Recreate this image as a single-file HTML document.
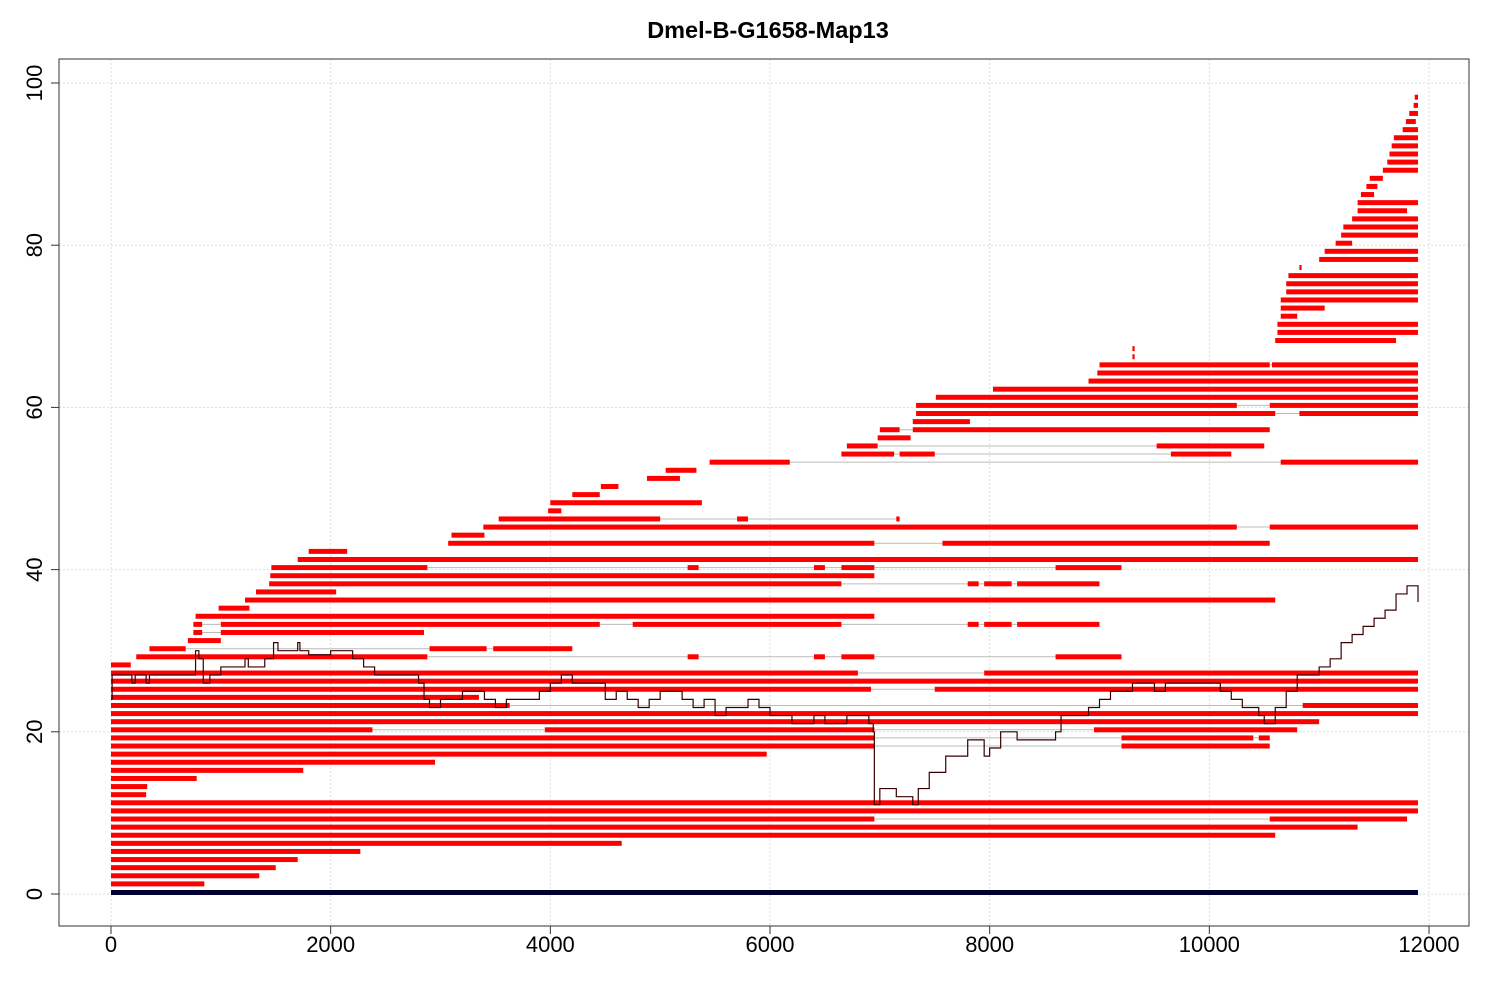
<!DOCTYPE html>
<html><head><meta charset="utf-8"><style>body{margin:0;background:#fff}svg{display:block}</style></head>
<body>
<svg id="chart" width="1500" height="1000" xmlns="http://www.w3.org/2000/svg" font-family="Liberation Sans, sans-serif">
<text x="768" y="38" text-anchor="middle" font-size="23.5" font-weight="bold">Dmel-B-G1658-Map13</text>
<g id="grid"></g>
<g id="links"></g>
<g id="bars"></g>
<g id="cov"></g>
<rect x="59" y="59" width="1410" height="867" fill="none" stroke="#333" stroke-width="1"/>
<g id="axes"></g>
</svg>
<script>
const xTicks=[0,2000,4000,6000,8000,10000,12000];
const yTicks=[0,20,40,60,80,100];
const rowSegments=[
[1,[[0,850]]],[2,[[0,1350]]],[3,[[0,1500]]],[4,[[0,1700]]],[5,[[0,2270]]],[6,[[0,4650]]],
[7,[[0,10600]]],[8,[[0,11350]]],[9,[[0,6950],[10550,11800]]],[10,[[0,11900]]],[11,[[0,11900]]],
[12,[[0,320]]],[13,[[0,330]]],[14,[[0,780]]],[15,[[0,1750]]],[16,[[0,2950]]],[17,[[0,5970]]],
[18,[[0,6950],[9200,10550]]],[19,[[0,6950],[9200,10400],[10450,10550]]],[20,[[0,2380],[3950,6950],[8950,10800]]],
[21,[[0,11000]]],[22,[[0,11900]]],[23,[[0,3630],[10850,11900]]],[24,[[0,3350]]],[25,[[0,6920],[7500,11900]]],
[26,[[0,11900]]],[27,[[0,6800],[7950,11900]]],[28,[[0,180]]],
[29,[[230,2880],[5250,5350],[6400,6500],[6650,6950],[8600,9200]]],[30,[[350,680],[2900,3420],[3480,4200]]],
[31,[[700,1000]]],[32,[[750,830],[1000,2850]]],[33,[[750,830],[1000,4450],[4750,6650],[7800,7900],[7950,8200],[8250,9000]]],
[34,[[770,6950]]],[35,[[980,1260]]],[36,[[1220,10600]]],[37,[[1320,2050]]],
[38,[[1440,6650],[7800,7900],[7950,8200],[8250,9000]]],[39,[[1450,6950]]],
[40,[[1460,2880],[5250,5350],[6400,6500],[6650,6950],[8600,9200]]],[41,[[1700,11900]]],[42,[[1800,2150]]],
[43,[[3070,6950],[7570,10550]]],[44,[[3100,3400]]],[45,[[3390,10250],[10550,11900]]],
[46,[[3530,5000],[5700,5800],[7150,7180]]],[47,[[3980,4100]]],[48,[[4000,5380]]],[49,[[4200,4450]]],
[50,[[4460,4620]]],[51,[[4880,5180]]],[52,[[5050,5330]]],[53,[[5450,6180],[10650,11900]]],
[54,[[6650,7130],[7180,7500],[9650,10200]]],[55,[[6700,6980],[9520,10500]]],[56,[[6980,7280]]],
[57,[[7000,7180],[7300,10550]]],[58,[[7300,7820]]],[59,[[7330,10600],[10820,11900]]],
[60,[[7330,10250],[10550,11900]]],[61,[[7510,11900]]],[62,[[8030,11900]]],[63,[[8900,11900]]],
[64,[[8980,11900]]],[65,[[9000,10550],[10570,11900]]],[66,[[9300,9320]]],[67,[[9300,9320]]],
[68,[[10600,11700]]],[69,[[10620,11900]]],[70,[[10620,11900]]],[71,[[10650,10800]]],[72,[[10650,11050]]],
[73,[[10650,11900]]],[74,[[10700,11900]]],[75,[[10700,11900]]],[76,[[10720,11900]]],[77,[[10820,10840]]],
[78,[[11000,11900]]],[79,[[11050,11900]]],[80,[[11150,11300]]],[81,[[11200,11900]]],[82,[[11220,11900]]],
[83,[[11300,11900]]],[84,[[11350,11800]]],[85,[[11350,11900]]],[86,[[11380,11500]]],[87,[[11430,11530]]],
[88,[[11460,11580]]],[89,[[11580,11900]]],[90,[[11620,11900]]],[91,[[11640,11900]]],[92,[[11660,11900]]],
[93,[[11680,11900]]],[94,[[11760,11900]]],[95,[[11790,11880]]],[96,[[11820,11900]]],[97,[[11860,11900]]],[98,[[11870,11900]]]
];
const covX=[0,10,180,190,220,320,350,700,770,800,840,900,1000,1220,1250,1400,1480,1520,1700,1720,1800,2000,2200,2300,2400,2800,2850,2900,3000,3200,3400,3500,3600,3900,4000,4100,4200,4400,4500,4600,4700,4800,4900,5000,5200,5300,5400,5500,5600,5800,5900,6000,6200,6400,6500,6700,6900,6940,6950,7000,7150,7300,7350,7450,7600,7800,7950,8000,8100,8250,8600,8650,8900,9000,9100,9300,9500,9600,10100,10200,10300,10450,10500,10600,10700,10800,10900,11000,11100,11200,11300,11400,11500,11600,11700,11800,11900];
const covY=[24,27,27,26,27,26,27,27,30,29,26,27,28,29,28,29,31,30,31,30,29.5,30,29,28,27,26,24,23,24,25,24,23,24,25,26,27,26,26,24,25,24,23,24,25,24,23,24,22,23,24,23,22,21,22,21,22,21,20,11,13,12,11,13,15,17,19,17,18,20,19,20,22,23,24,25,26,25,26,25,24,23,22,21,23,25,27,27,28,29,31,32,33,34,35,37,38,36];
const baseRow=[0,11900];

const NS="http://www.w3.org/2000/svg";
const X=v=>111+v*1318/12000, Y=v=>894-v*8.11;
const RY=v=>Y(v)-2;
function mk(tag,attrs,parent){const e=document.createElementNS(NS,tag);for(const k in attrs)e.setAttribute(k,attrs[k]);parent.appendChild(e);return e;}
const grid=document.getElementById('grid'),axes=document.getElementById('axes'),links=document.getElementById('links'),bars=document.getElementById('bars'),cov=document.getElementById('cov');
xTicks.forEach(t=>{
 const g=mk('line',{x1:X(t),x2:X(t),y1:59,y2:926,stroke:'#ddd','stroke-dasharray':'2,2'},grid);
 
 
 const tk=mk('line',{x1:X(t),x2:X(t),y1:926,y2:934,stroke:'#333'},axes);
 
 
 const l=mk('text',{x:X(t),y:952,'text-anchor':'middle','font-size':22},axes);l.textContent=t;
 
 
});
yTicks.forEach(t=>{
 const g=mk('line',{x1:59,x2:1469,y1:Y(t),y2:Y(t),stroke:'#ddd','stroke-dasharray':'2,2'},grid);
 
 
 const tk=mk('line',{x1:51,x2:59,y1:Y(t),y2:Y(t),stroke:'#333'},axes);
 
 
 const l=mk('text',{x:0,y:0,'text-anchor':'middle','font-size':22,transform:`translate(42,${Y(t)}) rotate(-90)`},axes);l.textContent=t;
 
 
});
rowSegments.forEach(([r,segs])=>{
 if(segs.length>1){
  const ln=mk('line',{x1:X(segs[0][0]),x2:X(segs[segs.length-1][1]),y1:RY(r),y2:RY(r),stroke:'#bbb','stroke-width':1},links);
  
  
 }
 segs.forEach(s=>{
  const b=mk('rect',{x:X(s[0]),y:RY(r)-2.5,width:Math.max(2,X(s[1])-X(s[0])),height:5,fill:'#ff0000'},bars);
  
  
 });
});
const br=mk('rect',{x:X(baseRow[0]),y:RY(0)-2,width:X(baseRow[1])-X(baseRow[0]),height:5,fill:'#000033'},bars);


let d=`M${X(covX[0])},${Y(covY[0])}`;
for(let i=1;i<covX.length;i++){d+=` H${X(covX[i])} V${Y(covY[i])}`;}
const p=mk('path',{d:d,fill:'none',stroke:'#3a0000','stroke-width':1.2},cov);


</script>
</body></html>
